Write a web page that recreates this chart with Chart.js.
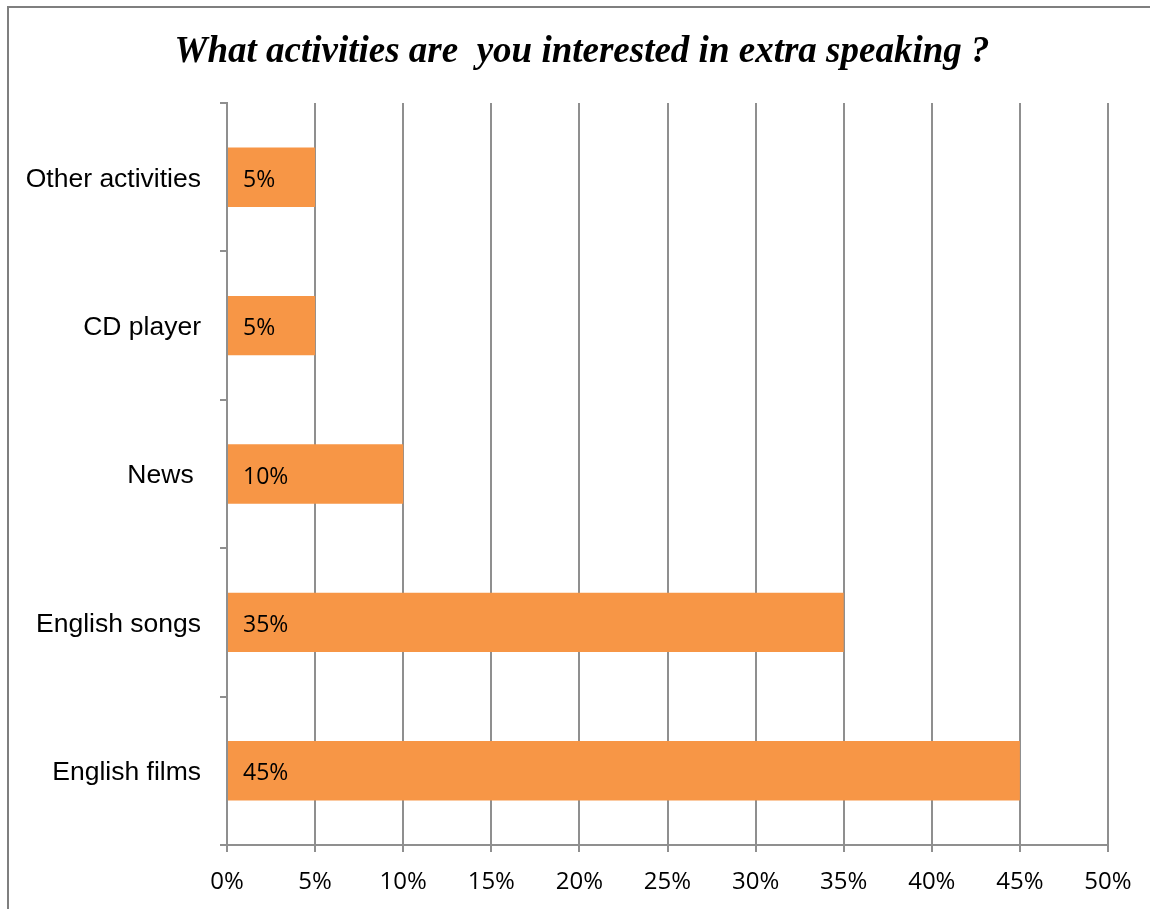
<!DOCTYPE html>
<html>
<head>
<meta charset="utf-8">
<script src="https://cdn.jsdelivr.net/npm/chart.js@4"></script>
<style>
  html, body { margin: 0; padding: 0; background: #fff; }
  #wrap { width: 1150px; height: 909px; }
</style>
</head>
<body>
<div id="wrap"><canvas id="bar-chart"></canvas></div>
<script>
// Chart values
const categories = ['Other activities', 'CD player', 'News ', 'English songs', 'English films'];
const shares = [5, 5, 10, 35, 45];
const tickStep = 5;
const tickMax = 50;
const chartTitle = 'What activities are  you interested in extra speaking ?';

const gridGray = '#8f8f8f';

// frame round the whole chart
const framePlugin = {
  id: 'frame',
  beforeDraw(chart) {
    const ctx = chart.ctx;
    ctx.save();
    ctx.fillStyle = '#fff';
    ctx.fillRect(0, 0, chart.width, chart.height);
    ctx.strokeStyle = '#7f7f7f';
    ctx.lineWidth = 2;
    ctx.strokeRect(8, 7, chart.width + 20, chart.height + 20);
    ctx.restore();
  }
};

// value labels inside the bars, at their left end
const barLabels = {
  id: 'barLabels',
  afterDatasetsDraw(chart) {
    const ctx = chart.ctx;
    const meta = chart.getDatasetMeta(0);
    ctx.save();
    ctx.fillStyle = '#000';
    ctx.font = '23px "Open Sans"';
    ctx.textAlign = 'left';
    ctx.textBaseline = 'middle';
    meta.data.forEach((bar, i) => {
      ctx.fillText(shares[i] + '%', bar.base + 15, bar.y + 3);
    });
    ctx.restore();
  }
};

const chartCanvas = document.querySelector('#bar-chart');

const barChart = new Chart(chartCanvas, {
  type: 'bar',
  data: {
    labels: categories,
    datasets: [{
      data: shares,
      backgroundColor: '#F79646',
      borderWidth: 0,
      barPercentage: 0.4,
      categoryPercentage: 1
    }]
  },
  options: {
    indexAxis: 'y',
    responsive: true,
    maintainAspectRatio: false,
    animation: false,
    layout: {
      padding: { left: 14, right: 0, top: 0, bottom: 0 }
    },
    plugins: {
      legend: { display: false },
      tooltip: { enabled: false },
      title: {
        display: true,
        text: chartTitle,
        color: '#000',
        font: { family: '"Liberation Serif"', size: 37, style: 'italic', weight: 'bold' },
        padding: { top: 30, bottom: 28.6 }
      }
    },
    scales: {
      x: {
        min: 0,
        max: tickMax,
        afterFit(scale) { scale.height = 64; },
        ticks: {
          stepSize: tickStep,
          color: '#000',
          padding: 16,
          font: { family: '"Open Sans"', size: 24 },
          callback: function (value) { return value + '%'; }
        },
        grid: {
          color: gridGray,
          lineWidth: 2,
          tickLength: 7,
          tickColor: gridGray
        },
        border: { color: gridGray, width: 2 }
      },
      y: {
        afterFit(scale) { scale.width = 213; },
        ticks: {
          color: '#000',
          padding: 19,
          labelOffset: 2,
          font: { family: '"Liberation Sans"', size: 26.5 }
        },
        grid: {
          offset: true,
          drawOnChartArea: false,
          tickLength: 7,
          tickColor: gridGray,
          lineWidth: 2
        },
        border: { color: gridGray, width: 2 }
      },
      // empty strip on the right so the plot ends where the original does
      yRight: {
        type: 'linear',
        axis: 'y',
        position: 'right',
        afterFit(scale) { scale.width = 42; },
        ticks: { display: false },
        grid: { display: false },
        border: { display: false }
      }
    }
  },
  plugins: [framePlugin, barLabels]
});
</script>
</body>
</html>
